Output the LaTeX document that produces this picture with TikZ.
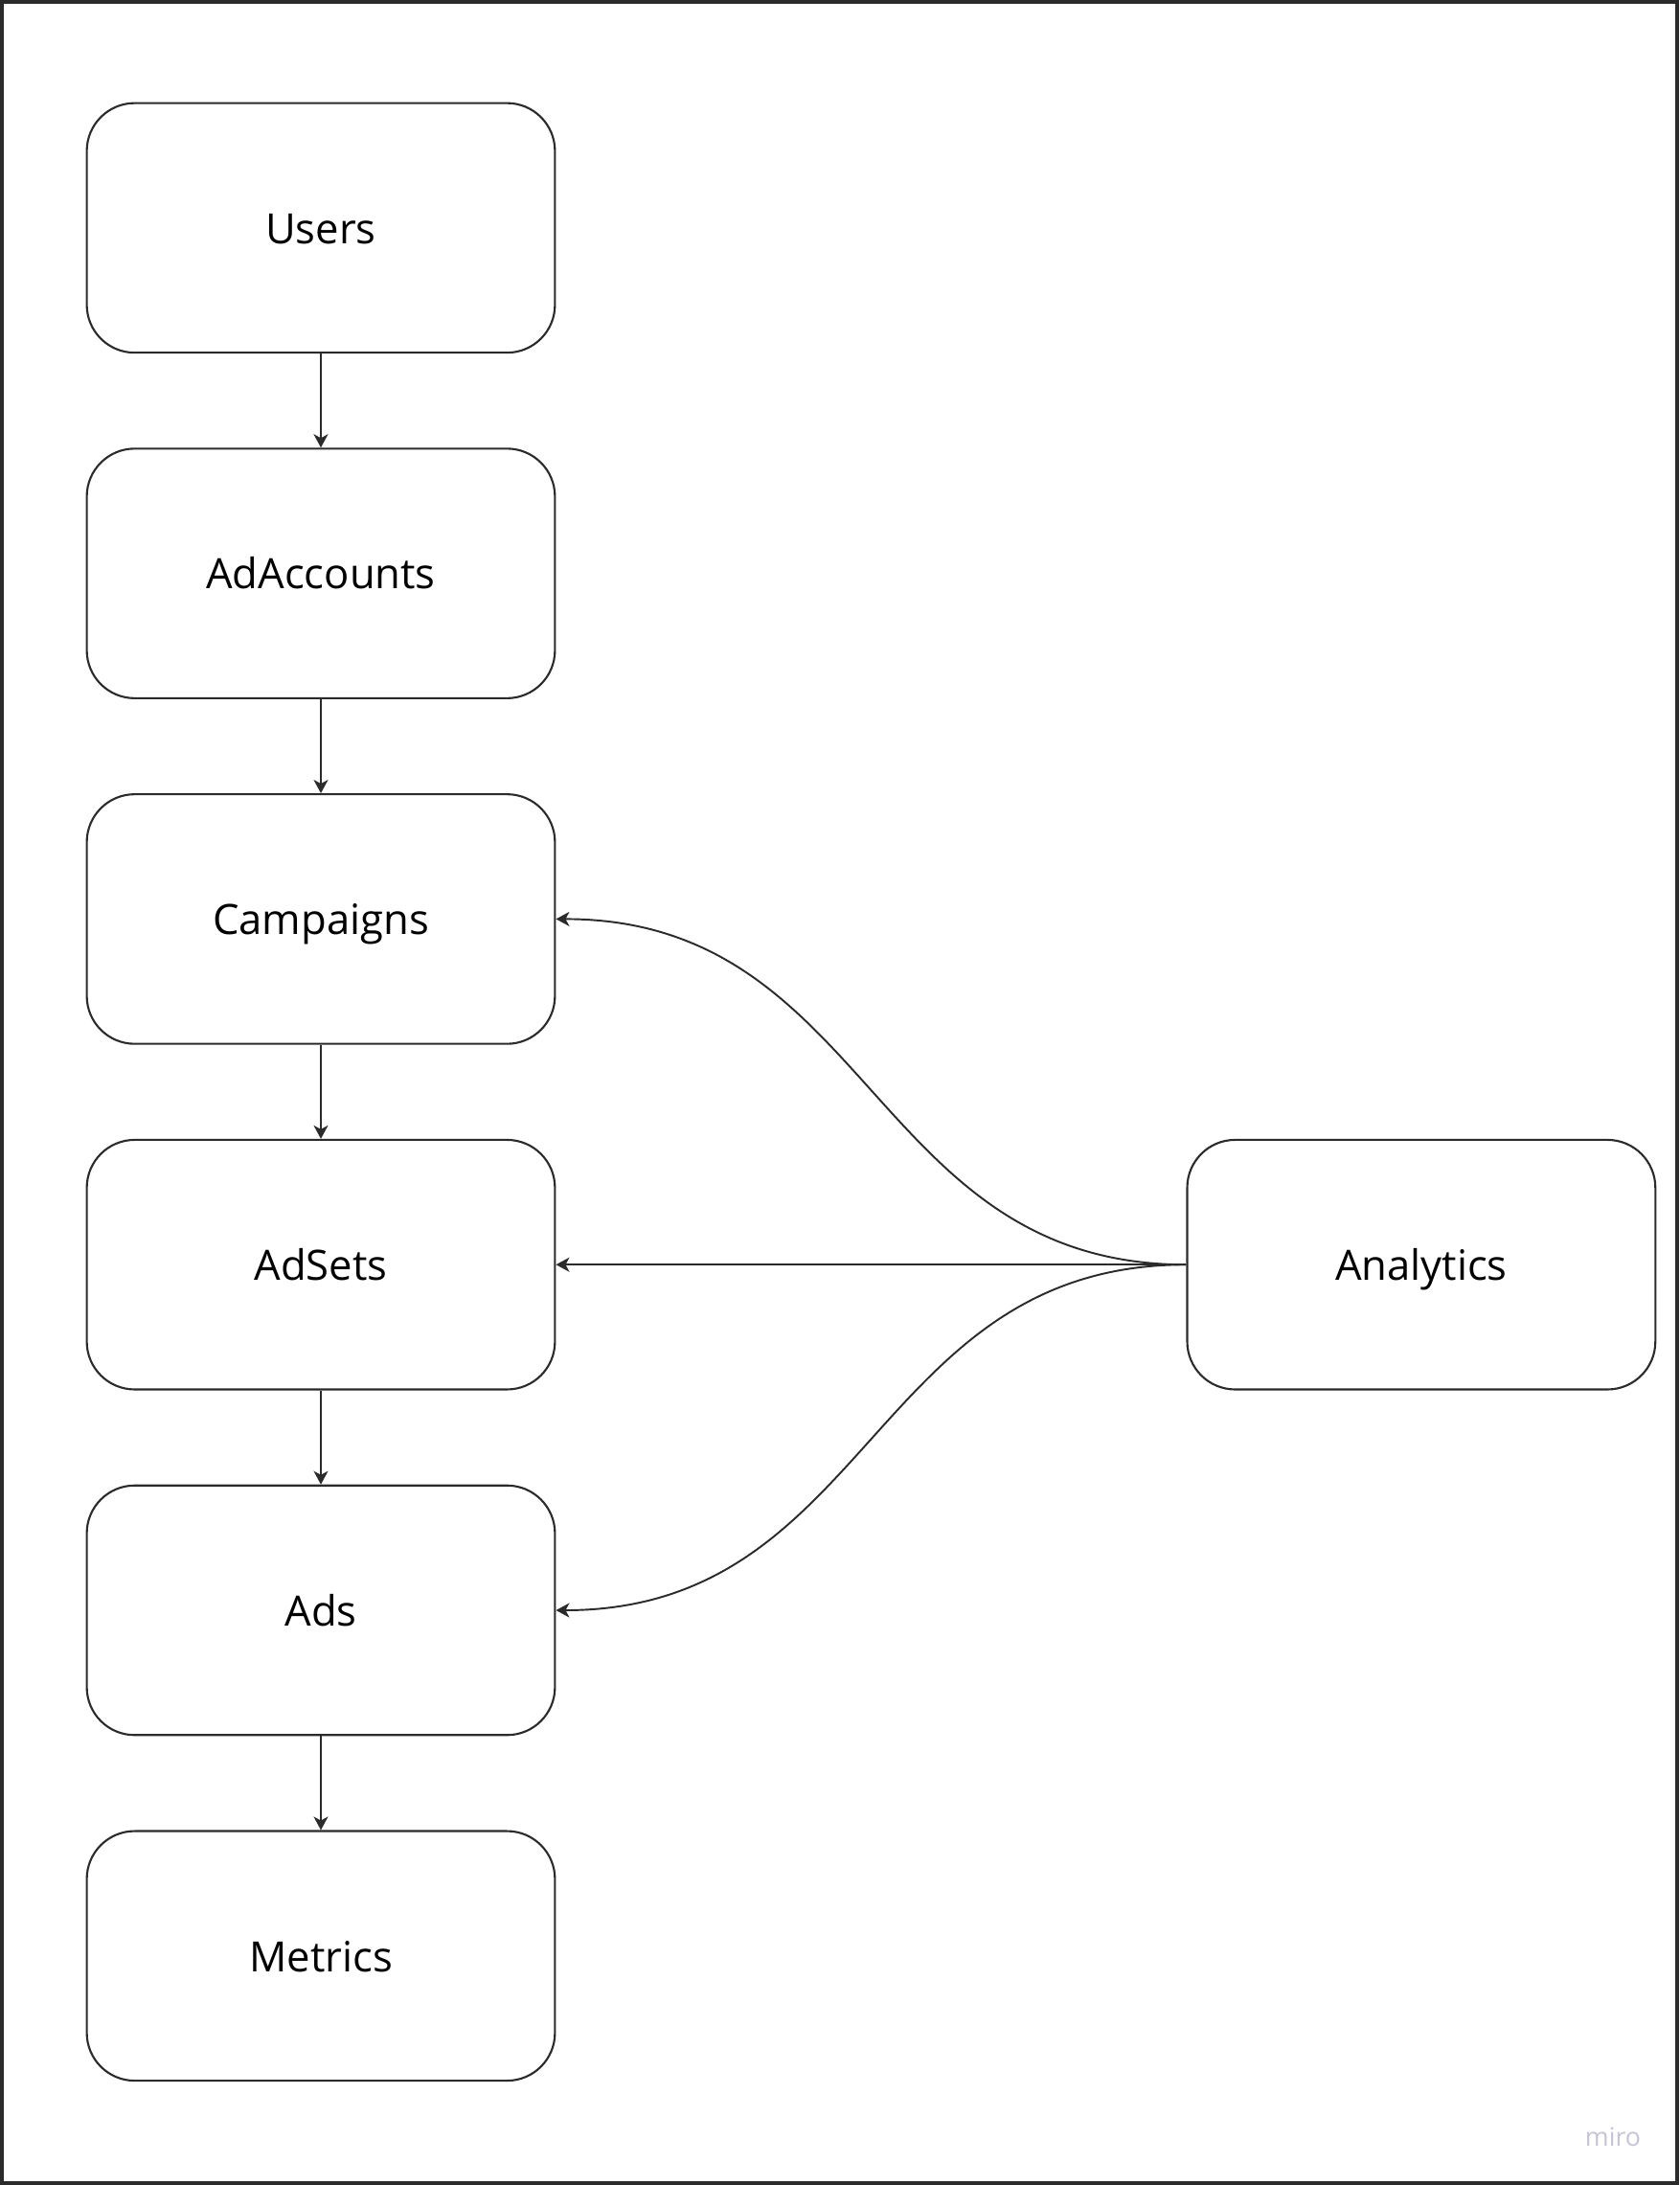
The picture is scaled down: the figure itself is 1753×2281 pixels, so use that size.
\documentclass[tikz,border=0pt]{standalone}
\usepackage{fontspec}
\setmainfont{Open Sans}
\usetikzlibrary{arrows.meta}
\definecolor{ink}{HTML}{2B2B2B}
\definecolor{wm}{HTML}{C4C4D6}
\begin{document}
\begin{tikzpicture}[x=0.01cm,y=-0.01cm,
  box/.style={draw=ink, line width=0.6pt, rounded corners=0.5cm, minimum width=4.885cm, minimum height=2.604cm, inner sep=0pt, font=\fontsize{12.4pt}{15pt}\selectfont, text=black, text height=9.3pt, text depth=0pt},
  conn/.style={draw=ink, line width=0.55pt, -{Stealth[length=0.14cm,width=0.15cm,inset=0.04cm]}}]
\useasboundingbox (0,0) rectangle (1753,2281);
\draw[ink, line width=1.1pt] (2,2) rectangle (1751,2279);
\node[box] (users) at (335,237.9) {Users};
\node[box] (adacc) at (335,598.6) {AdAccounts};
\node[box] (camp) at (335,959.4) {Campaigns};
\node[box] (adsets) at (335,1320.2) {AdSets};
\node[box] (ads) at (335,1681) {Ads};
\node[box] (metrics) at (335,2041.8) {Metrics};
\node[box] (anal) at (1483.9,1320.2) {Analytics};
\draw[conn] (users) -- (adacc);
\draw[conn] (adacc) -- (camp);
\draw[conn] (camp) -- (adsets);
\draw[conn] (adsets) -- (ads);
\draw[conn] (ads) -- (metrics);
\draw[conn] (anal.west) -- (adsets.east);
\draw[conn] (anal.west) .. controls (910,1320.2) and (910,959.4) .. (camp.east);
\draw[conn] (anal.west) .. controls (910,1320.2) and (910,1681) .. (ads.east);
\node[text=wm, font=\fontsize{7.6pt}{9pt}\selectfont, inner sep=0pt] (miro) at (1684,2231) {miro};
\end{tikzpicture}
\end{document}
